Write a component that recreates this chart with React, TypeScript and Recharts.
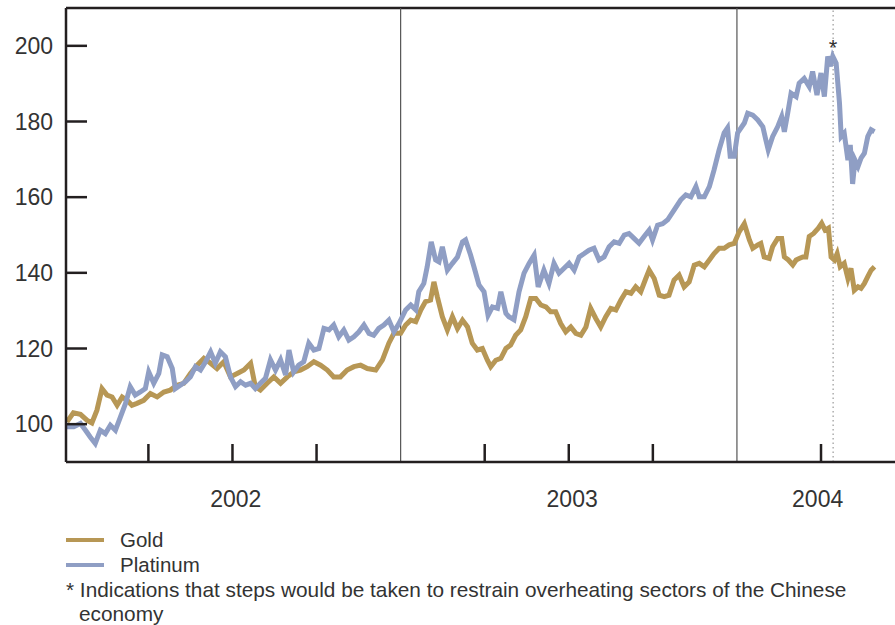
import { LineChart, Line, XAxis, YAxis, ReferenceLine } from 'recharts'

// decimal years, values are index levels
const goldDates = [
    2002.008, 2002.027, 2002.048, 2002.068, 2002.082, 2002.097, 2002.112, 2002.127, 2002.142, 2002.157,
    2002.172, 2002.187, 2002.201, 2002.216, 2002.236, 2002.256, 2002.276, 2002.296, 2002.315, 2002.335,
    2002.355, 2002.375, 2002.395, 2002.415, 2002.435, 2002.454, 2002.474, 2002.494, 2002.514, 2002.534,
    2002.554, 2002.568, 2002.583, 2002.603, 2002.623, 2002.643, 2002.663, 2002.682, 2002.702, 2002.722,
    2002.742, 2002.762, 2002.782, 2002.801, 2002.821, 2002.841, 2002.861, 2002.881, 2002.901, 2002.926,
    2002.946, 2002.965, 2002.98, 2003.0, 2003.015, 2003.03, 2003.045, 2003.06, 2003.074, 2003.089,
    2003.099, 2003.109, 2003.124, 2003.139, 2003.154, 2003.169, 2003.184, 2003.199, 2003.213, 2003.228,
    2003.243, 2003.258, 2003.268, 2003.283, 2003.298, 2003.313, 2003.327, 2003.342, 2003.357, 2003.372,
    2003.387, 2003.402, 2003.417, 2003.432, 2003.446, 2003.461, 2003.476, 2003.491, 2003.506, 2003.521,
    2003.536, 2003.551, 2003.565, 2003.58, 2003.595, 2003.61, 2003.625, 2003.64, 2003.655, 2003.67,
    2003.685, 2003.699, 2003.714, 2003.729, 2003.739, 2003.754, 2003.769, 2003.784, 2003.798, 2003.813,
    2003.828, 2003.843, 2003.858, 2003.873, 2003.888, 2003.903, 2003.918, 2003.932, 2003.947, 2003.962,
    2003.977, 2003.992, 2004.007, 2004.022, 2004.037, 2004.047, 2004.062, 2004.071, 2004.081, 2004.096,
    2004.106, 2004.121, 2004.133, 2004.141, 2004.153, 2004.166, 2004.176, 2004.185, 2004.196, 2004.205,
    2004.215, 2004.228, 2004.242, 2004.252, 2004.262, 2004.272, 2004.28, 2004.29, 2004.298, 2004.307,
    2004.319, 2004.33, 2004.339, 2004.349, 2004.36, 2004.369, 2004.379, 2004.389, 2004.399, 2004.409,
]
const goldValues = [
    100.6, 103, 102.6, 101, 100.3, 103.7, 109.4, 107.7, 107.2, 105,
    107.2, 106.3, 105, 105.5, 106.3, 108.1, 107.2, 108.5, 109, 110.3,
    110.8, 113.4, 115.6, 117.4, 116.1, 114.7, 116.5, 112.5, 113.4, 114.3,
    116.1, 109.9, 109, 110.8, 112.5, 110.8, 112.5, 113.8, 114.3, 115.2,
    116.5, 115.6, 114.3, 112.5, 112.5, 114.3, 115.2, 115.6, 114.7, 114.3,
    117, 121.4, 124, 124, 126.2, 127.5, 127.1, 130.2, 132.4, 132.8,
    137.6, 133.7, 128.4, 124.9, 128.4, 125.3, 127.5, 125.7, 121.4, 119.6,
    120, 116.9, 115.2, 116.9, 117.4, 120, 120.9, 123.5, 124.9, 128.4,
    133.2, 133.2, 131.5, 131, 129.7, 129.7, 126.6, 124.4, 125.7, 124,
    123.5, 125.7, 130.6, 128, 125.7, 128.4, 130.6, 130.2, 132.8, 135,
    134.6, 136.3, 135, 138.5, 140.7, 138.5, 134.1, 133.7, 134.1, 138.1,
    139.4, 136.3, 137.6, 142, 142.5, 141.6, 143.4, 145.1, 146.5, 146.5,
    147.4, 147.8, 150.9, 153, 148.7, 146.5, 147.4, 147.8, 144.2, 143.8,
    146.9, 149.1, 149.1, 144.2, 143.4, 142.1, 143.4, 143.8, 144.2, 144.2,
    149.6, 150.4, 151.8, 153.1, 151.3, 151.8, 144.2, 143.4, 145.1, 141.6,
    142.5, 138.5, 141.2, 135.4, 136.3, 135.9, 137.2, 139, 140.7, 141.6,
]

const platinumDates = [
    2002.008, 2002.028, 2002.048, 2002.063, 2002.077, 2002.092, 2002.107, 2002.122, 2002.137, 2002.152,
    2002.167, 2002.182, 2002.196, 2002.211, 2002.226, 2002.241, 2002.251, 2002.266, 2002.281, 2002.291,
    2002.306, 2002.321, 2002.33, 2002.345, 2002.36, 2002.375, 2002.39, 2002.405, 2002.42, 2002.435,
    2002.449, 2002.464, 2002.479, 2002.494, 2002.509, 2002.524, 2002.539, 2002.554, 2002.568, 2002.583,
    2002.598, 2002.613, 2002.628, 2002.643, 2002.658, 2002.668, 2002.682, 2002.697, 2002.712, 2002.727,
    2002.742, 2002.757, 2002.772, 2002.787, 2002.801, 2002.816, 2002.831, 2002.846, 2002.861, 2002.876,
    2002.891, 2002.906, 2002.92, 2002.935, 2002.95, 2002.965, 2002.98, 2002.995, 2003.015, 2003.03,
    2003.045, 2003.054, 2003.069, 2003.079, 2003.091, 2003.104, 2003.114, 2003.124, 2003.139, 2003.154,
    2003.169, 2003.184, 2003.193, 2003.208, 2003.218, 2003.233, 2003.248, 2003.26, 2003.273, 2003.288,
    2003.298, 2003.313, 2003.322, 2003.337, 2003.352, 2003.367, 2003.382, 2003.397, 2003.409, 2003.426,
    2003.441, 2003.456, 2003.471, 2003.486, 2003.501, 2003.516, 2003.531, 2003.546, 2003.56, 2003.575,
    2003.59, 2003.605, 2003.62, 2003.635, 2003.65, 2003.665, 2003.679, 2003.694, 2003.709, 2003.724,
    2003.739, 2003.749, 2003.764, 2003.779, 2003.794, 2003.813, 2003.833, 2003.848, 2003.863, 2003.878,
    2003.888, 2003.903, 2003.918, 2003.932, 2003.947, 2003.962, 2003.972, 2003.98, 2003.992, 2004.002,
    2004.022, 2004.032, 2004.047, 2004.062, 2004.077, 2004.086, 2004.093, 2004.106, 2004.121, 2004.133,
    2004.141, 2004.151, 2004.161, 2004.176, 2004.185, 2004.2, 2004.215, 2004.225, 2004.238, 2004.25,
    2004.26, 2004.27, 2004.278, 2004.285, 2004.295, 2004.305, 2004.31, 2004.319, 2004.33, 2004.337,
    2004.344, 2004.351, 2004.36, 2004.369, 2004.379, 2004.389, 2004.399, 2004.409,
]
const platinumValues = [
    99.3, 99.3, 100.2, 98.4, 96.6, 94.9, 98.4, 97.5, 99.7, 98.4,
    101.9, 105.5, 109.9, 107.7, 108.5, 109.4, 113.8, 110.8, 113.4, 118.3,
    117.8, 114.7, 109.4, 110.3, 111.2, 112.5, 115.2, 114.3, 116.5, 119.1,
    116.1, 119.1, 117.8, 112.5, 109.9, 111.2, 110.3, 110.8, 109.4, 110.8,
    112.1, 117, 114.3, 117, 113, 119.6, 113.8, 115.6, 116.5, 121.4,
    119.6, 120, 125.3, 124.9, 126.2, 123.1, 124.9, 122.2, 123.1, 124.4,
    126.2, 124, 123.5, 125.3, 126.2, 127.5, 124.4, 126.6, 130.2, 131.5,
    130.2, 135, 137.2, 141.6, 148.2, 143.4, 142.9, 146.9, 140.7, 142.5,
    144.2, 148.2, 148.7, 144.7, 141.6, 136.8, 135, 128.8, 131, 130.6,
    135, 129.3, 128.4, 127.6, 135, 139.9, 142.5, 144.7, 136.3, 140.7,
    137.2, 142.5, 139.9, 141.2, 142.5, 140.7, 144.2, 145.1, 146, 146.5,
    143.4, 144.2, 146.9, 148.2, 147.8, 150, 150.4, 149.1, 147.8, 149.6,
    151.3, 148.7, 152.6, 153, 154, 156.6, 159.3, 160.6, 160.1, 162.8,
    160.1, 160.1, 162.8, 167.2, 172.5, 177, 178.3, 170.8, 170.8, 177,
    179.6, 182.2, 181.7, 180.4, 178.6, 175.1, 172.5, 176, 178.6, 181.3,
    177.3, 182.2, 187.5, 186.6, 190.1, 191.4, 189.2, 193.2, 187, 192.8,
    186.6, 197.2, 194.6, 197.2, 195.4, 184.8, 176, 176.9, 169.8, 173.8,
    163.5, 169.8, 168.1, 170.3, 171.6, 176, 177.8, 177.3,
]

const yTicks = [100, 120, 140, 160, 180, 200]
const quarterTicks = [2002.25, 2002.5, 2002.75, 2003.25, 2003.5, 2003.75, 2004.25]
const yearTicks = [2002.51, 2003.51, 2004.24]
const yearLabels = ['2002', '2003', '2004']
const yearBreaks = [2003, 2004]
const eventDate = 2004.286

const goldData = goldDates.map((t, i) => ({ t, v: goldValues[i] }))
const platinumData = platinumDates.map((t, i) => ({ t, v: platinumValues[i] }))

const INK = '#231f20'
const TEXT = '#333333'
const GOLD = '#b79755'
const PLATINUM = '#8f9ec4'
const FONT = '"Liberation Sans", Arial, sans-serif'

const XTick = (props: any) => {
    const { x, y, payload } = props
    const idx = yearTicks.indexOf(payload.value)
    if (idx >= 0) {
        return (
            <text x={x} y={y + 45} textAnchor="middle" fontSize={23} fill={TEXT} fontFamily={FONT}>
                {yearLabels[idx]}
            </text>
        )
    }
    return <line x1={x} x2={x} y1={y} y2={y - 18} stroke={INK} strokeWidth={2.5} />
}

const YTick = (props: any) => {
    const { x, y, payload } = props
    return (
        <g>
            <line x1={x} x2={x + 21} y1={y} y2={y} stroke={INK} strokeWidth={2.5} />
            <text x={x - 13} y={y} dy="0.36em" textAnchor="end" fontSize={23} fill={TEXT} fontFamily={FONT}>
                {payload.value}
            </text>
        </g>
    )
}

const Star = (props: any) => {
    const { viewBox } = props
    return (
        <text x={viewBox.x} y={viewBox.y + 47} textAnchor="middle" fontSize={22} fill={TEXT} fontFamily={FONT}>
            *
        </text>
    )
}

export default function App() {
    return (
        <div style={{ position: 'absolute', left: 0, top: 0, width: 895, height: 625, background: '#fff', fontFamily: FONT, overflow: 'hidden' }}>
            <LineChart width={895} height={625} data={goldData} margin={{ top: 8, right: 0, bottom: 123, left: 0 }}>
                <XAxis
                    dataKey="t"
                    type="number"
                    domain={[2002.005, 2004.47]}
                    allowDataOverflow
                    ticks={[...quarterTicks, ...yearTicks]}
                    interval={0}
                    height={40}
                    tickLine={false}
                    tickSize={0}
                    tickMargin={0}
                    tick={<XTick />}
                    axisLine={{ stroke: INK, strokeWidth: 2.5 }}
                />
                <YAxis
                    type="number"
                    domain={[90, 210]}
                    allowDataOverflow
                    ticks={yTicks}
                    width={66}
                    tickLine={false}
                    tickSize={0}
                    tickMargin={0}
                    tick={<YTick />}
                    axisLine={{ stroke: INK, strokeWidth: 2.5 }}
                />
                <ReferenceLine y={210} stroke={INK} strokeWidth={2.5} />
                {yearBreaks.map(b => (
                    <ReferenceLine key={b} x={b} stroke="#555" strokeWidth={1.2} />
                ))}
                <ReferenceLine x={eventDate} stroke="#999" strokeWidth={1.2} strokeDasharray="1.5 3" label={<Star />} />
                <Line data={goldData} dataKey="v" stroke={GOLD} strokeWidth={5} dot={false} isAnimationActive={false} />
                <Line data={platinumData} dataKey="v" stroke={PLATINUM} strokeWidth={5} dot={false} isAnimationActive={false} />
            </LineChart>

            <div style={{ position: 'absolute', left: 66, top: 527, fontSize: 20.5, color: TEXT, lineHeight: '25px' }}>
                <div style={{ display: 'flex', alignItems: 'center' }}>
                    <span style={{ display: 'inline-block', width: 38, height: 4, background: GOLD, marginRight: 16 }} />
                    Gold
                </div>
                <div style={{ display: 'flex', alignItems: 'center' }}>
                    <span style={{ display: 'inline-block', width: 38, height: 4, background: PLATINUM, marginRight: 16 }} />
                    Platinum
                </div>
            </div>
            <div style={{ position: 'absolute', left: 66, top: 578, fontSize: 20.8, color: TEXT, lineHeight: '24px', paddingLeft: 13, textIndent: -13, width: 826, whiteSpace: 'nowrap' }}>
                * Indications that steps would be taken to restrain overheating sectors of the Chinese<br />economy
            </div>
        </div>
    )
}
